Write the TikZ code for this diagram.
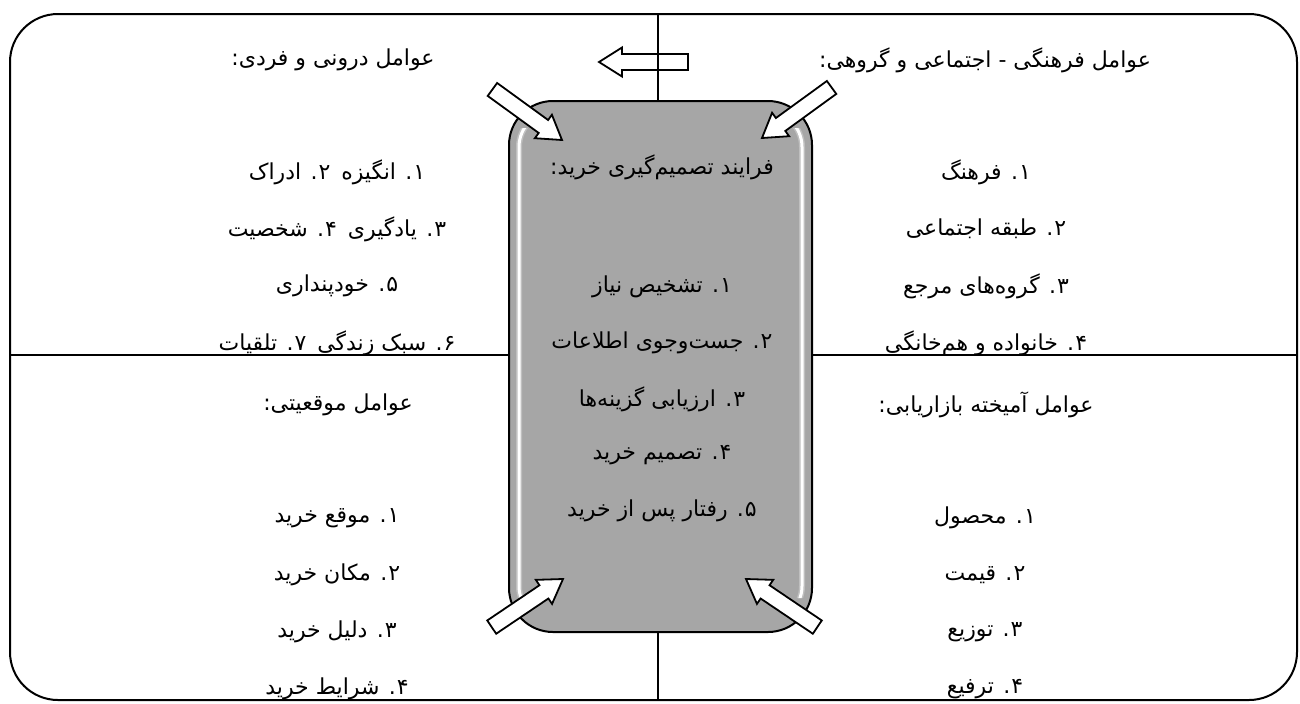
\documentclass[tikz,border=0pt]{standalone}
\usepackage{fontspec}
\newfontfamily\farsi[Script=Arabic]{DejaVu Sans}
\TeXXeTstate=1
\usetikzlibrary{positioning}

\newcommand{\fa}[1]{\farsi\beginR #1\endR}
\newcommand{\nm}[1]{#1\kern0.5pt.}
% hollow block arrow: tip, angle, length
\newcommand{\hollowarrow}[3]{%
  \draw[arrowbox, shift={(#1)}, rotate=#2] (0,0) -- (-23,-14.5) -- (-23,-8) -- (-#3,-8) -- (-#3,8) -- (-23,8) -- (-23,14.5) -- cycle;}

\begin{document}
\begin{tikzpicture}[x=0.5pt,y=-0.5pt,
  arrowbox/.style={draw, fill=white, line width=0.9pt, line join=miter},
  frameline/.style={line width=1pt},
  procbox/.style={draw, line width=1pt, fill=black!35, rounded corners=22pt,
    minimum width=151.5pt, minimum height=265.5pt, inner sep=0pt},
  label/.style={font=\fontsize{11}{13}\selectfont, inner sep=0pt}]
\useasboundingbox (0,0) rectangle (1300,703);

% frame and quadrants
\draw[frameline, rounded corners=24pt] (10,14) rectangle (1297,700);
\draw[frameline] (10,355) -- (1297,355);
\hollowarrow{599,62}{180}{89}
\draw[frameline] (658,14) -- (658,700);

% titles
\node[label] (intitle) at (333,60) {\fa{عوامل درونی و فردی:}};
\node[label] (cultitle) at (985,60) {\fa{عوامل فرهنگی - اجتماعی و گروهی:}};
\node[label] (sittitle) at (338,405) {\fa{عوامل موقعیتی:}};
\node[label] (mixtitle) at (986,405) {\fa{عوامل آمیخته بازاریابی:}};

% factor lists
\begin{scope}
  \clip (10,14) rectangle (1297,354);
  \foreach \t [count=\i] in {\nm{۱} انگیزه\enspace \nm{۲} ادراک, \nm{۳} یادگیری\enspace \nm{۴} شخصیت, \nm{۵} خودپنداری, \nm{۶} سبک زندگی\enspace \nm{۷} تلقیات} {
    \node[label] (in\i) at (337,{115+57*\i}) {\fa{\t}};
  }
  \foreach \t [count=\i] in {\nm{۱} فرهنگ, \nm{۲} طبقه اجتماعی, \nm{۳} گروه^^^^200cهای مرجع, \nm{۴} خانواده و هم^^^^200cخانگی} {
    \node[label] (cul\i) at (986,{115+57*\i}) {\fa{\t}};
  }
\end{scope}
\foreach \t [count=\i] in {\nm{۱} موقع خرید, \nm{۲} مکان خرید, \nm{۳} دلیل خرید, \nm{۴} شرایط خرید} {
  \node[label] (sit\i) at (337,{461+57*\i}) {\fa{\t}};
}
\foreach \t [count=\i] in {\nm{۱} محصول, \nm{۲} قیمت, \nm{۳} توزیع, \nm{۴} ترفیع} {
  \node[label] (mix\i) at (985,{461+57*\i}) {\fa{\t}};
}

% decision process box
\node[procbox] (proc) at (660.5,366.5) {};
\begin{scope}
  \clip (500,128) rectangle (542,598) (779,128) rectangle (820,598);
  \draw[black!25, line width=3pt, rounded corners=18pt] (519,111) rectangle (802,622);
  \draw[white, line width=1.5pt, rounded corners=18pt] (519,111) rectangle (802,622);
\end{scope}
\node[label] (proctitle) at (662,167) {\fa{فرایند تصمیم^^^^200cگیری خرید:}};
\foreach \t [count=\i] in {\nm{۱} تشخیص نیاز, \nm{۲} جست^^^^200cوجوی اطلاعات, \nm{۳} ارزیابی گزینه^^^^200cها, \nm{۴} تصمیم خرید, \nm{۵} رفتار پس از خرید} {
  \node[label] (step\i) at (662,{231+56*\i}) {\fa{\t}};
}

% arrows into the box
\hollowarrow{562,140}{-36}{86}
\hollowarrow{762,138}{216}{86}
\hollowarrow{563,579}{34}{86}
\hollowarrow{746,579}{146}{86}

\end{tikzpicture}
\end{document}
